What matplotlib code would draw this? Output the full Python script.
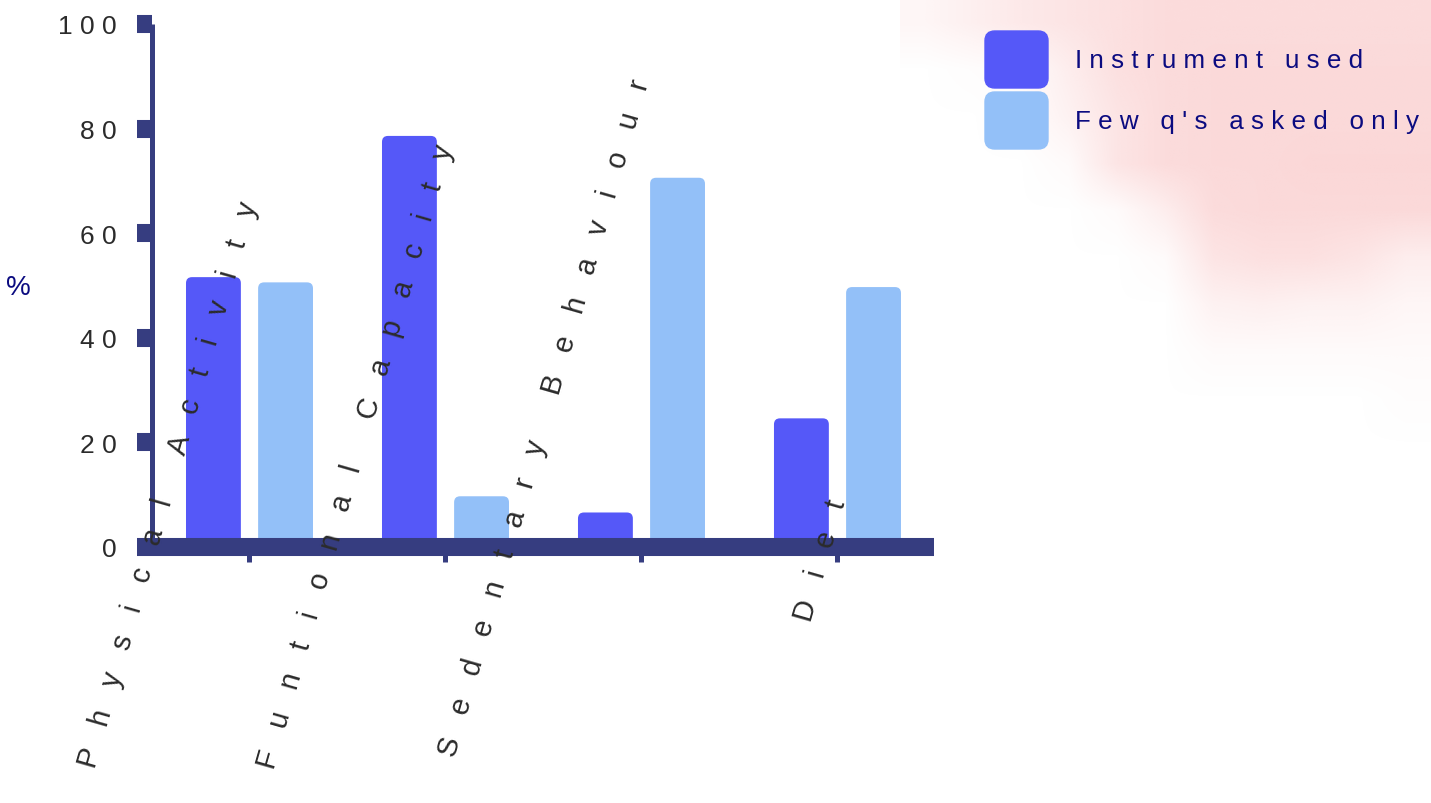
import matplotlib

matplotlib.use("Agg")

import matplotlib.pyplot as plt
import numpy as np
from matplotlib.legend_handler import HandlerPatch
from matplotlib.patches import FancyBboxPatch, Patch

categories = ["Physical Activity", "Funtional Capacity", "Sedentary Behaviour", "Diet"]
series_names = ["Instrument used", "Few q's asked only"]
instrument_used = [51.6, 78.6, 6.6, 24.6]
few_questions = [50.6, 9.7, 70.6, 49.7]
y_ticks = [0, 20, 40, 60, 80, 100]

BAR_COLORS = ["#5558f8", "#93c0f8"]
AXIS_COLOR = "#363d80"
TEXT_COLOR = "#2b2b2b"
LEGEND_TEXT_COLOR = "#0b0b80"
FONT = ["Liberation Sans", "DejaVu Sans"]

# y value (axis units) where each slanted category label ends
label_ends = [66.0, 76.9, 89.5, 9.0]

# faint pink wash in the top right corner, one alpha per coarse cell
backdrop = np.array([
    [0.20, 0.35, 0.50, 0.60, 0.70, 0.80, 0.80, 0.80, 0.80, 0.80, 0.80],
    [0.00, 0.05, 0.10, 0.40, 0.70, 0.80, 0.85, 0.85, 0.85, 0.85, 0.85],
    [0.00, 0.00, 0.05, 0.30, 0.60, 0.80, 0.85, 0.85, 0.85, 0.85, 0.85],
    [0.00, 0.00, 0.00, 0.10, 0.60, 0.80, 0.85, 0.85, 0.90, 0.90, 0.90],
    [0.00, 0.00, 0.00, 0.00, 0.10, 0.40, 0.80, 0.85, 0.85, 0.85, 0.85],
    [0.00, 0.00, 0.00, 0.00, 0.00, 0.10, 0.60, 0.70, 0.70, 0.60, 0.40],
    [0.00, 0.00, 0.00, 0.00, 0.00, 0.00, 0.30, 0.35, 0.30, 0.30, 0.20],
    [0.00, 0.00, 0.00, 0.00, 0.00, 0.00, 0.10, 0.10, 0.10, 0.10, 0.10],
    [0.00, 0.00, 0.00, 0.00, 0.00, 0.00, 0.00, 0.00, 0.00, 0.00, 0.05],
    [0.00, 0.00, 0.00, 0.00, 0.00, 0.00, 0.00, 0.00, 0.00, 0.00, 0.00],
])


def spaced(text, gap=1, word_gap=2):
    """Spread the letters out, the way the labels are typeset."""
    return (" " * word_gap).join((" " * gap).join(word) for word in text.split(" "))


def round_tops(ax, bars, radius=6):
    """Swap plain bar rectangles for ones with rounded corners (radius in pixels)."""
    origin = ax.transData.transform((0, 0))
    px_x = ax.transData.transform((1, 0))[0] - origin[0]
    px_y = ax.transData.transform((0, 1))[1] - origin[1]
    for bar in bars:
        box = FancyBboxPatch(
            bar.get_xy(), bar.get_width(), bar.get_height(),
            boxstyle=f"round,pad=0,rounding_size={radius / px_x}",
            mutation_aspect=px_x / px_y,
            facecolor=bar.get_facecolor(), edgecolor="none", zorder=bar.get_zorder(),
        )
        bar.remove()
        ax.add_patch(box)


def swatch(legend, orig_handle, xdescent, ydescent, width, height, fontsize):
    return FancyBboxPatch((-xdescent, -ydescent), width, height,
                          boxstyle="round,pad=0,rounding_size=7")


W, H = 1431, 804
fig = plt.figure(figsize=(W / 100, H / 100), dpi=100)

bg = fig.add_axes([0, 0, 1, 1], zorder=0)
bg.set_xlim(0, W)
bg.set_ylim(H, 0)
bg.axis("off")
wash = np.zeros(backdrop.shape + (4,))
wash[..., :3] = np.array([251, 211, 211]) / 255
wash[..., 3] = backdrop
bg.imshow(wash, extent=(900, W, 470, 0), interpolation="bilinear", aspect="auto")

ax = fig.add_axes([151.5 / W, (H - 548) / H, 782.5 / W, 523 / H], zorder=1)
ax.set_facecolor("none")
ax.set_xlim(-0.5, 3.4925)
ax.set_ylim(0, 100)

x = np.arange(len(categories))
offset = 0.184
width = 0.28
for values, shift, color in zip([instrument_used, few_questions], [-offset, offset], BAR_COLORS):
    bars = ax.bar(x + shift, values, width, color=color, zorder=1)
    round_tops(ax, bars)

for side in ["top", "right"]:
    ax.spines[side].set_visible(False)
ax.spines["bottom"].set_color(AXIS_COLOR)
ax.spines["bottom"].set_linewidth(13)
ax.spines["left"].set_color(AXIS_COLOR)
ax.spines["left"].set_linewidth(3.6)
for side in ["bottom", "left"]:
    ax.spines[side].set_capstyle("butt")

ax.set_yticks(y_ticks, labels=[spaced(str(t)) for t in y_ticks])
ax.tick_params(axis="y", direction="out", length=10.8, width=13, color=AXIS_COLOR,
               pad=14.4, labelsize=19, labelcolor=TEXT_COLOR, labelfontfamily=FONT)
ax.set_xticks(x)
ax.tick_params(axis="x", direction="out", length=10.8, width=3.6, color=AXIS_COLOR,
               labelbottom=False)

for i, name in enumerate(categories):
    ax.text(i, label_ends[i], spaced(name, 3, 6), rotation=74, rotation_mode="anchor",
            ha="right", va="center", fontsize=21, family=FONT, color=TEXT_COLOR,
            zorder=5, clip_on=False)

ax.set_ylabel("%", rotation=0, fontsize=20, family=FONT, color=LEGEND_TEXT_COLOR,
              ha="center", va="center")
ax.yaxis.set_label_coords((18 - 151.5) / 782.5, (548 - 288) / 523)

legend_size = 18.7
size_px = legend_size * 100 / 72
fig.legend(
    [Patch(color=c) for c in BAR_COLORS],
    [spaced(name, 1, 3) for name in series_names],
    loc="upper left", bbox_to_anchor=(985 / W, (H - 32) / H),
    frameon=False, borderpad=0, borderaxespad=0,
    handlelength=63 / size_px, handleheight=(57 / size_px - 0.245) / 0.65,
    labelspacing=4 / size_px, handletextpad=27 / size_px,
    prop={"family": FONT, "size": legend_size}, labelcolor=LEGEND_TEXT_COLOR,
    handler_map={Patch: HandlerPatch(patch_func=swatch)},
)

fig.savefig("out.png", dpi=100)
plt.close(fig)
